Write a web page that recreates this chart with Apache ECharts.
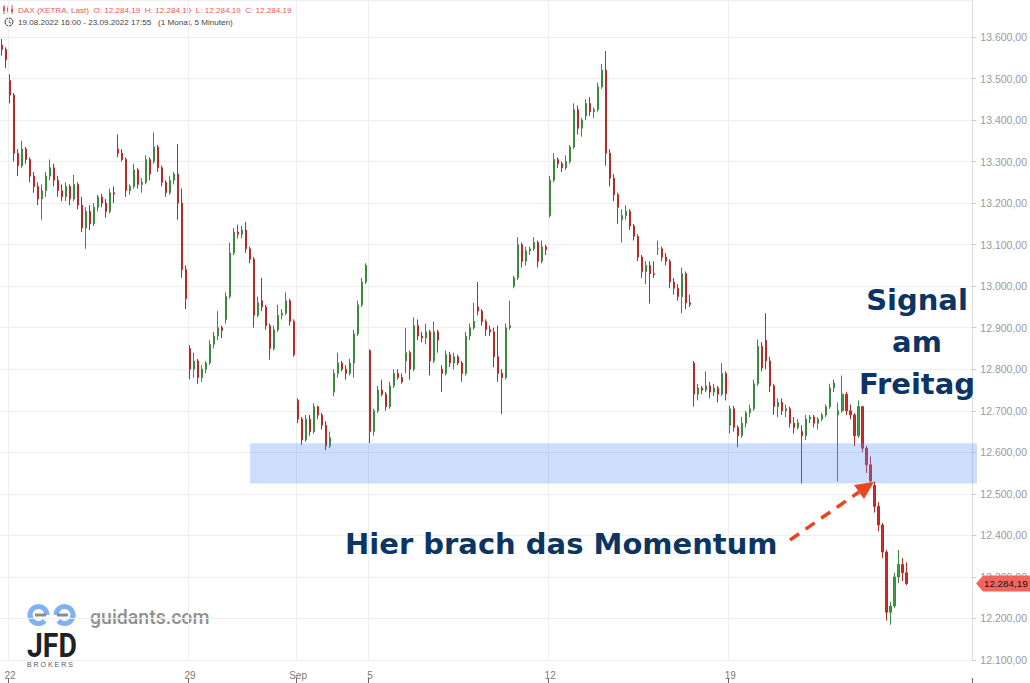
<!DOCTYPE html>
<html>
<head>
<meta charset="utf-8">
<script src="https://cdn.jsdelivr.net/npm/echarts/dist/echarts.min.js"></script>
<style>
  html, body { margin: 0; padding: 0; background: #ffffff; }
  #chart { width: 1030px; height: 683px; }
</style>
</head>
<body>
<div id="chart"></div>
<script>
// ---- Data: hourly candles, each row [open, high, low, close] ----
const aug19 = [[13580,13595,13555,13570],[13570,13575,13525,13545]];
const aug22 = [[13495,13510,13440,13460],[13460,13465,13300,13320],[13320,13330,13265,13290],[13290,13350,13285,13330],[13330,13335,13295,13305],[13305,13310,13250,13265],[13265,13275,13225,13240],[13240,13250,13195,13210],[13210,13245,13160,13230]];
const aug23 = [[13230,13275,13215,13265],[13265,13305,13255,13285],[13285,13295,13240,13255],[13255,13265,13215,13230],[13230,13245,13205,13215],[13215,13250,13205,13240],[13240,13245,13195,13210],[13210,13268,13205,13245],[13245,13250,13185,13195]];
const aug24 = [[13195,13215,13130,13140],[13140,13190,13090,13180],[13180,13195,13135,13150],[13150,13200,13145,13190],[13190,13220,13180,13215],[13215,13222,13190,13200],[13200,13210,13165,13180],[13180,13235,13175,13225],[13225,13240,13200,13222]];
const aug25 = [[13330,13365,13310,13320],[13320,13330,13300,13305],[13305,13310,13215,13230],[13230,13245,13220,13240],[13240,13295,13235,13280],[13280,13285,13235,13245],[13245,13260,13225,13250],[13250,13315,13245,13305],[13305,13310,13255,13270]];
const aug26 = [[13300,13370,13295,13335],[13335,13340,13275,13285],[13285,13290,13240,13250],[13250,13255,13215,13225],[13225,13265,13220,13255],[13255,13275,13245,13270],[13270,13342,13160,13200],[13200,13235,13020,13040],[13040,13050,12945,12970]];
const aug29 = [[12850,12858,12776,12800],[12800,12840,12780,12820],[12820,12825,12765,12780],[12780,12810,12770,12800],[12800,12820,12790,12815],[12815,12870,12810,12860],[12860,12890,12850,12880],[12880,12940,12870,12900],[12900,12905,12875,12893]];
const aug30 = [[12920,12985,12910,12975],[12975,13105,12970,13080],[13080,13140,13075,13130],[13130,13148,13115,13125],[13125,13145,13115,13135],[13135,13155,13080,13090],[13090,13095,13055,13065],[13065,13070,12900,12930],[12930,12975,12925,12960]];
const aug31 = [[12965,13020,12940,12950],[12950,12955,12895,12905],[12905,12910,12823,12850],[12850,12905,12845,12895],[12895,12955,12890,12930],[12930,12945,12920,12935],[12935,12985,12930,12965],[12965,12970,12905,12915],[12915,12920,12830,12835]];
const sep01 = [[12725,12730,12670,12680],[12680,12685,12618,12630],[12630,12690,12625,12680],[12680,12690,12640,12650],[12650,12718,12645,12710],[12710,12712,12680,12690],[12690,12695,12655,12665],[12665,12675,12605,12615],[12615,12650,12610,12635]];
const sep02 = [[12745,12800,12735,12790],[12790,12840,12780,12815],[12815,12820,12795,12800],[12800,12810,12775,12790],[12790,12825,12785,12815],[12815,12895,12780,12885],[12885,12965,12880,12955],[12955,13020,12950,13010],[13010,13055,13005,13050]];
const sep05 = [[12845,12848,12622,12650],[12650,12705,12640,12700],[12700,12760,12695,12750],[12750,12775,12735,12740],[12740,12745,12700,12710],[12710,12770,12705,12760],[12760,12800,12755,12790],[12790,12800,12775,12780],[12780,12790,12765,12770]];
const sep06 = [[12820,12900,12790,12840],[12840,12845,12775,12800],[12800,12925,12795,12905],[12905,12920,12870,12880],[12880,12890,12865,12875],[12875,12910,12860,12890],[12890,12895,12785,12820],[12820,12915,12815,12890],[12890,12895,12840,12870]];
const sep07 = [[12800,12810,12745,12790],[12790,12845,12785,12835],[12835,12842,12805,12815],[12815,12840,12800,12830],[12830,12835,12810,12815],[12815,12820,12770,12790],[12790,12890,12785,12880],[12880,12910,12870,12900],[12900,12960,12895,12915]];
const sep08 = [[12950,13010,12930,12940],[12940,12945,12905,12915],[12915,12920,12880,12895],[12895,12905,12880,12890],[12890,12900,12805,12830],[12830,12905,12770,12790],[12790,12800,12692,12780],[12780,12910,12775,12900],[12900,12965,12895,12905]];
const sep09 = [[13000,13025,12995,13020],[13020,13118,13015,13100],[13100,13105,13045,13060],[13060,13095,13050,13085],[13085,13095,13075,13090],[13090,13118,13085,13105],[13105,13110,13045,13060],[13060,13110,13055,13095],[13095,13100,13075,13088]];
const sep12 = [[13170,13265,13165,13255],[13255,13320,13250,13305],[13305,13310,13285,13295],[13295,13300,13275,13285],[13285,13315,13280,13300],[13300,13340,13295,13335],[13335,13440,13330,13425],[13425,13435,13365,13380],[13380,13405,13360,13400]];
const sep13 = [[13410,13450,13400,13440],[13440,13455,13410,13420],[13420,13430,13405,13425],[13425,13490,13420,13480],[13480,13535,13475,13520],[13520,13566,13290,13320],[13320,13330,13240,13260],[13260,13270,13205,13220],[13220,13225,13150,13190]];
const sep14 = [[13160,13185,13105,13170],[13170,13195,13160,13180],[13180,13185,13135,13145],[13145,13150,13110,13120],[13120,13125,13060,13070],[13070,13075,13020,13035],[13035,13060,13005,13050],[13050,13060,12958,13030],[13030,13060,13020,13028]];
const sep15 = [[13090,13110,13075,13090],[13090,13095,13060,13070],[13070,13080,13050,13060],[13060,13065,12995,13010],[13010,13020,12980,12995],[12995,13005,12965,12975],[12975,13045,12935,13030],[13030,13035,12945,12960],[12960,12980,12950,12956]];
const sep16 = [[12815,12820,12710,12740],[12740,12765,12725,12755],[12755,12760,12740,12750],[12750,12795,12745,12760],[12760,12770,12730,12745],[12745,12765,12735,12755],[12755,12760,12720,12740],[12740,12815,12735,12790],[12790,12795,12725,12741]];
const sep19 = [[12665,12712,12645,12705],[12705,12712,12650,12660],[12660,12665,12612,12640],[12640,12685,12635,12670],[12670,12700,12660,12695],[12695,12715,12685,12705],[12705,12775,12700,12765],[12765,12872,12760,12855],[12855,12865,12795,12803]];
const sep20 = [[12870,12935,12800,12820],[12820,12830,12745,12760],[12760,12765,12690,12710],[12710,12730,12685,12720],[12720,12730,12690,12700],[12700,12715,12685,12705],[12705,12710,12660,12670],[12670,12685,12645,12660],[12660,12680,12655,12671]];
const sep21 = [[12650,12665,12525,12640],[12640,12690,12630,12680],[12680,12690,12670,12685],[12685,12690,12660,12670],[12670,12685,12655,12680],[12680,12695,12675,12690],[12690,12715,12685,12710],[12710,12765,12705,12755],[12755,12775,12745,12767]];
const sep22 = [[12690,12720,12530,12700],[12700,12785,12695,12740],[12740,12745,12690,12700],[12700,12715,12680,12690],[12690,12695,12615,12640],[12640,12725,12635,12710],[12710,12712,12600,12610],[12610,12615,12550,12570],[12570,12590,12525,12531]];
const sep23 = [[12520,12530,12455,12470],[12470,12480,12410,12425],[12425,12430,12345,12360],[12360,12365,12195,12215],[12215,12240,12185,12230],[12230,12310,12225,12300],[12300,12365,12285,12330],[12330,12345,12290,12310],[12310,12335,12280,12284.19]];

const sessionDates = ['19.08','22.08','23.08','24.08','25.08','26.08','29.08','30.08','31.08','01.09','02.09','05.09','06.09','07.09','08.09','09.09','12.09','13.09','14.09','15.09','16.09','19.09','20.09','21.09','22.09','23.09'];
const sessionBars = [aug19,aug22,aug23,aug24,aug25,aug26,aug29,aug30,aug31,sep01,sep02,sep05,sep06,sep07,sep08,sep09,sep12,sep13,sep14,sep15,sep16,sep19,sep20,sep21,sep22,sep23];
const dayHours = ['09:00','10:00','11:00','12:00','13:00','14:00','15:00','16:00','17:00'];
const lateHours = ['16:00','17:00'];
const padCount = 16;

const tickDates = ['22.08','29.08','01.09','05.09','12.09','19.09'];
const tickTexts = ['22','29','Sep','5','12','19'];

const yMin = 12100, yMax = 13689, yStep = 100;
const zoneLow = 12525, zoneHigh = 12622, zoneStart = '30.08 15:00';
const headerOHLC = [12284.19, 12284.19, 12284.19, 12284.19];

// ---- build ----
const categories = [], candles = [];
sessionDates.forEach((d, si) => {
  const bars = sessionBars[si];
  const hrs = bars.length === dayHours.length ? dayHours : lateHours;
  bars.forEach((b, i) => {
    categories.push(d + ' ' + hrs[i]);
    candles.push([b[0], b[3], b[2], b[1]]); // echarts: open, close, low, high
  });
});
for (let i = 0; i < padCount; i++) categories.push('');
const tickMap = {};
tickDates.forEach((d, i) => { tickMap[d + ' 09:00'] = tickTexts[i]; });
const isTick = (idx, val) => Object.prototype.hasOwnProperty.call(tickMap, val);

function fmtDE(v, dec) {
  const parts = v.toFixed(dec).split('.');
  const int = parts[0].replace(/\B(?=(\d{3})+(?!\d))/g, '.');
  return int + ',' + parts[1];
}
const lastBar = sep23[sep23.length - 1];
const lastClose = lastBar[3];

const FONT = '"Liberation Sans", Arial, sans-serif';
const NAVY = '#0c3564';
const ANN = 'bold 29px "DejaVu Sans", sans-serif';
const GRID_RIGHT = 53;

const chart = echarts.init(document.getElementById('chart'), null, { renderer: 'svg', width: 1030, height: 683 });

const graphics = [
  // header icon
  { type: 'line', shape: { x1: 4, y1: 5, x2: 4, y2: 14 }, style: { stroke: '#e8504b', lineWidth: 1 } },
  { type: 'rect', shape: { x: 3, y: 7, width: 2, height: 4 }, style: { fill: '#e8504b' } },
  { type: 'line', shape: { x1: 8, y1: 6, x2: 8, y2: 13 }, style: { stroke: '#e8504b', lineWidth: 1 } },
  { type: 'rect', shape: { x: 7, y: 8, width: 2, height: 3 }, style: { fill: '#e8504b' } },
  { type: 'line', shape: { x1: 12, y1: 5, x2: 12, y2: 14 }, style: { stroke: '#e8504b', lineWidth: 1 } },
  { type: 'rect', shape: { x: 11, y: 9, width: 2, height: 3 }, style: { fill: '#e8504b' } },
  { type: 'text', x: 18, y: 10, style: { text: 'DAX (XETRA, Last)  O: ' + fmtDE(headerOHLC[0],2) + '  H: ' + fmtDE(headerOHLC[1],2) + '  L: ' + fmtDE(headerOHLC[2],2) + '  C: ' + fmtDE(headerOHLC[3],2), fill: '#ec5a55', font: '8.1px ' + FONT, verticalAlign: 'middle', textVerticalAlign: 'middle' } },
  { type: 'circle', shape: { cx: 9, cy: 22, r: 4 }, style: { fill: 'none', stroke: '#444', lineWidth: 1 } },
  { type: 'polyline', shape: { points: [[9, 19.5], [9, 22], [11, 23.2]] }, style: { fill: 'none', stroke: '#444', lineWidth: 1 } },
  { type: 'text', x: 18, y: 22, style: { text: '19.08.2022 16:00 - 23.09.2022 17:55   (1 Monat, 5 Minuten)', fill: '#444', font: '8.1px ' + FONT, verticalAlign: 'middle', textVerticalAlign: 'middle' } },
  // logo
  { type: 'arc', shape: { cx: 38.5, cy: 615, r: 8.5, startAngle: 0.75, endAngle: Math.PI * 2 }, style: { fill: 'none', stroke: '#80b1f3', lineWidth: 5 } },
  { type: 'arc', shape: { cx: 64.5, cy: 615, r: 8.5, startAngle: Math.PI, endAngle: Math.PI * 3 - 0.75 }, style: { fill: 'none', stroke: '#80b1f3', lineWidth: 5 } },
  { type: 'line', shape: { x1: 35, y1: 615, x2: 46, y2: 615 }, style: { stroke: '#8c8c8c', lineWidth: 3 } },
  { type: 'line', shape: { x1: 57, y1: 615, x2: 68, y2: 615 }, style: { stroke: '#8c8c8c', lineWidth: 3 } },
  { type: 'text', x: 90, y: 617, style: { text: 'guidants.com', fill: '#909090', font: '500 19.5px Roboto, sans-serif', verticalAlign: 'middle', textVerticalAlign: 'middle' } },
  { type: 'text', x: 27, y: 646, scaleX: 0.86, style: { text: 'JFD', fill: '#1e2126', font: 'bold 33px Roboto, sans-serif', verticalAlign: 'middle', textVerticalAlign: 'middle' } },
  { type: 'text', x: 27, y: 664, style: { text: 'B R O K E R S', fill: '#5a5a5a', font: '7px ' + FONT, verticalAlign: 'middle', textVerticalAlign: 'middle' } },
  // annotations
  { type: 'text', x: 917, y: 300, z: 50, style: { text: 'Signal', fill: NAVY, font: ANN, align: 'center', textAlign: 'center', verticalAlign: 'middle', textVerticalAlign: 'middle' } },
  { type: 'text', x: 917, y: 342, z: 50, style: { text: 'am', fill: NAVY, font: ANN, align: 'center', textAlign: 'center', verticalAlign: 'middle', textVerticalAlign: 'middle' } },
  { type: 'text', x: 917, y: 384, z: 50, style: { text: 'Freitag', fill: NAVY, font: ANN, align: 'center', textAlign: 'center', verticalAlign: 'middle', textVerticalAlign: 'middle' } },
  { type: 'text', x: 345, y: 544, z: 50, style: { text: 'Hier brach das Momentum', fill: NAVY, font: ANN, verticalAlign: 'middle', textVerticalAlign: 'middle' } },
  { type: 'line', z: 50, shape: { x1: 790, y1: 540, x2: 859, y2: 492 }, style: { stroke: '#e8461e', lineWidth: 3.5, lineDash: [11, 8] } },
  { type: 'polygon', z: 50, shape: { points: [[874, 482], [864, 499], [854, 485]] }, style: { fill: '#e8461e' } }
];

const option = {
  animation: false,
  backgroundColor: '#ffffff',
  textStyle: { fontFamily: FONT },
  grid: { left: -1, right: GRID_RIGHT, top: 0, bottom: 23, containLabel: false },
  xAxis: {
    type: 'category',
    data: categories,
    boundaryGap: true,
    offset: 23,
    axisLine: { show: false },
    axisTick: { show: true, inside: true, length: 5, interval: isTick, lineStyle: { color: '#666' } },
    axisLabel: { inside: true, margin: 3, interval: isTick, formatter: v => tickMap[v] || '', color: '#7a7a7a', fontSize: 10, fontFamily: FONT },
    splitLine: { show: true, interval: isTick, lineStyle: { color: '#eeeeee', width: 1 } }
  },
  yAxis: {
    type: 'value',
    position: 'right',
    min: yMin, max: yMax, interval: yStep,
    scale: true,
    axisLine: { show: true, lineStyle: { color: '#dddddd' } },
    axisTick: { show: true, length: 4, lineStyle: { color: '#cccccc' } },
    axisLabel: { margin: 8, color: '#9a9a9a', fontSize: 10.5, fontFamily: FONT, showMaxLabel: false, formatter: v => fmtDE(v, 2) },
    splitLine: { show: true, lineStyle: { color: '#eeeeee', width: 1 } }
  },
  series: [{
    type: 'candlestick',
    data: candles,
    barMaxWidth: 2.2,
    itemStyle: { color: '#3f9a44', color0: '#cc2d2a', borderColor: '#3a8a3f', borderColor0: '#b82826', borderWidth: 1 }
  }],
  graphic: graphics
};
chart.setOption(option);

// support zone (through the axes' scales) and price tag at the last close
const zx0 = chart.convertToPixel({ xAxisIndex: 0 }, categories.indexOf(zoneStart));
const zyTop = chart.convertToPixel({ yAxisIndex: 0 }, zoneHigh);
const zyBot = chart.convertToPixel({ yAxisIndex: 0 }, zoneLow);
const plotRight = 1030 - GRID_RIGHT;
graphics.push({ type: 'rect', z: 20, silent: true, shape: { x: zx0, y: zyTop, width: plotRight - zx0, height: zyBot - zyTop }, style: { fill: 'rgba(88,145,248,0.3)' } });

const ty = chart.convertToPixel({ yAxisIndex: 0 }, lastClose);
const ax = 976;
graphics.push({ type: 'polygon', z: 100, shape: { points: [[ax, ty], [ax + 7, ty - 8], [1030, ty - 8], [1030, ty + 8], [ax + 7, ty + 8]] }, style: { fill: '#f2655f' } });
graphics.push({ type: 'text', z: 101, x: 984, y: ty, style: { text: fmtDE(lastClose, 2), fill: '#2a0d0d', font: '9.8px ' + FONT, verticalAlign: 'middle', textVerticalAlign: 'middle' } });
chart.setOption({ graphic: graphics });
</script>
</body>
</html>
